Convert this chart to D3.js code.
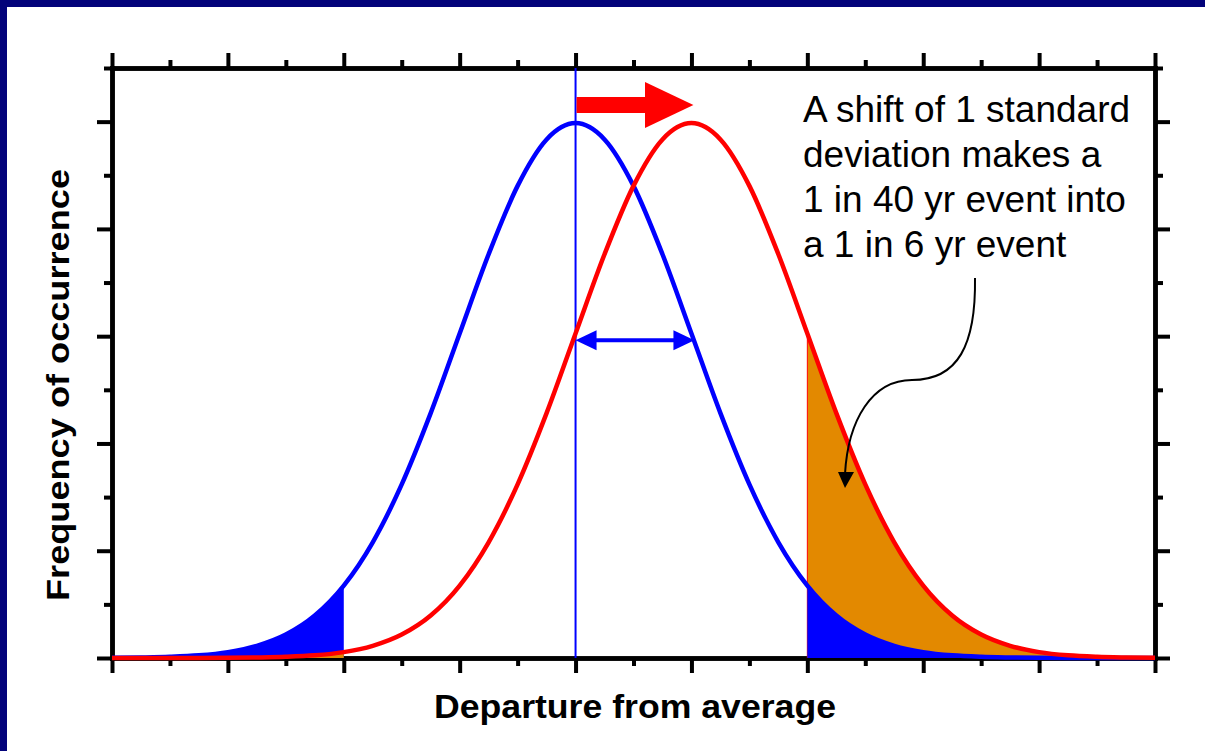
<!DOCTYPE html>
<html>
<head>
<meta charset="utf-8">
<script src="https://cdn.jsdelivr.net/npm/d3@7"></script>
<style>
  html, body { margin: 0; padding: 0; background: #fff; }
  svg { display: block; }
</style>
</head>
<body>
<svg id="chart" width="1205" height="751"></svg>
<script>
// ---- data ----
const departure = [-4, -3.75, -3.5, -3.25, -3, -2.75, -2.5, -2.25, -2, -1.75, -1.5, -1.25, -1, -0.75, -0.5, -0.25,
  0, 0.25, 0.5, 0.75, 1, 1.25, 1.5, 1.75, 2, 2.25, 2.5, 2.75, 3, 3.25, 3.5, 3.75, 4, 4.25, 4.5, 4.75, 5];
const presentClimate = [0.0001, 0.0004, 0.0009, 0.0020, 0.0044, 0.0091, 0.0175, 0.0317, 0.0540, 0.0863, 0.1295, 0.1826,
  0.2420, 0.3011, 0.3521, 0.3867, 0.3989, 0.3867, 0.3521, 0.3011, 0.2420, 0.1826, 0.1295, 0.0863, 0.0540, 0.0317,
  0.0175, 0.0091, 0.0044, 0.0020, 0.0009, 0.0004, 0.0001, 0.0000, 0.0000, 0.0000, 0.0000];
const shiftedClimate = [0.0000, 0.0000, 0.0000, 0.0000, 0.0001, 0.0004, 0.0009, 0.0020, 0.0044, 0.0091, 0.0175, 0.0317,
  0.0540, 0.0863, 0.1295, 0.1826, 0.2420, 0.3011, 0.3521, 0.3867, 0.3989, 0.3867, 0.3521, 0.3011, 0.2420, 0.1826,
  0.1295, 0.0863, 0.0540, 0.0317, 0.0175, 0.0091, 0.0044, 0.0020, 0.0009, 0.0004, 0.0001];
const lowThreshold = -2;
const highThreshold = 2;
const xMajorTicks = [-4, -3, -2, -1, 0, 1, 2, 3, 4, 5];
const xMinorTicks = [-3.5, -2.5, -1.5, -0.5, 0.5, 1.5, 2.5, 3.5, 4.5];
const yMajorTicks = [0, 0.08, 0.16, 0.24, 0.32, 0.40];
const yMinorTicks = [0.04, 0.12, 0.20, 0.28, 0.36, 0.44];
const xTitle = "Departure from average";
const yTitle = "Frequency of occurrence";
const noteLines = ["A shift of 1 standard", "deviation makes a", "1 in 40 yr event into", "a 1 in 6 yr event"];

// ---- drawing ----
const svg = d3.select("#chart");
const W = 1205, H = 751;
const navy = "#03037a", blue = "#0000ff", red = "#ff0000", orange = "#e38900";

svg.append("rect").attr("width", W).attr("height", H).attr("fill", "#fff");
svg.append("rect").attr("x", 0).attr("y", 0).attr("width", W).attr("height", 7).attr("fill", navy);
svg.append("rect").attr("x", 0).attr("y", 0).attr("width", 7).attr("height", H).attr("fill", navy);

const x = d3.scaleLinear().domain([-4, 5]).range([112, 1155]);
const y = d3.scaleLinear().domain([0, 0.44]).range([658, 68]);

function styleAxis(g) {
  g.selectAll("text").remove();
  g.select(".domain").attr("stroke", "#000").attr("stroke-width", 4.5).attr("stroke-linecap", "square");
  g.selectAll(".tick line").attr("stroke", "#000").attr("stroke-width", 4);
}
const axes = svg.append("g");
function addAxis(gen, tx, ty) {
  axes.append("g").attr("transform", `translate(${tx},${ty})`).call(gen).call(styleAxis);
}
const noFmt = () => "";
addAxis(d3.axisBottom(x).tickValues(xMajorTicks).tickSize(15).tickSizeOuter(0).tickFormat(noFmt), 0, y(0));
addAxis(d3.axisBottom(x).tickValues(xMinorTicks).tickSize(8).tickSizeOuter(0).tickFormat(noFmt), 0, y(0));
addAxis(d3.axisTop(x).tickValues(xMajorTicks).tickSize(15).tickSizeOuter(0).tickFormat(noFmt), 0, y(0.44));
addAxis(d3.axisTop(x).tickValues(xMinorTicks).tickSize(8).tickSizeOuter(0).tickFormat(noFmt), 0, y(0.44));
addAxis(d3.axisLeft(y).tickValues(yMajorTicks).tickSize(15).tickSizeOuter(0).tickFormat(noFmt), x(-4), 0);
addAxis(d3.axisLeft(y).tickValues(yMinorTicks).tickSize(8).tickSizeOuter(0).tickFormat(noFmt), x(-4), 0);
addAxis(d3.axisRight(y).tickValues(yMajorTicks).tickSize(15).tickSizeOuter(0).tickFormat(noFmt), x(5), 0);
addAxis(d3.axisRight(y).tickValues(yMinorTicks).tickSize(8).tickSizeOuter(0).tickFormat(noFmt), x(5), 0);

const blueData = departure.map((d, i) => ({ x: d, y: presentClimate[i] }));
const redData = departure.map((d, i) => ({ x: d, y: shiftedClimate[i] }));

const area = d3.area().x(d => x(d.x)).y0(y(0)).y1(d => y(d.y)).curve(d3.curveMonotoneX);
const line = d3.line().x(d => x(d.x)).y(d => y(d.y)).curve(d3.curveMonotoneX);

// left tail
svg.append("path").datum(blueData.filter(d => d.x <= lowThreshold)).attr("d", area).attr("fill", blue);
svg.append("path").datum(redData.filter(d => d.x <= lowThreshold)).attr("d", area).attr("fill", orange);
// right tail
svg.append("path").datum(redData.filter(d => d.x >= highThreshold)).attr("d", area).attr("fill", orange);
svg.append("line")
  .attr("x1", x(highThreshold)).attr("x2", x(highThreshold))
  .attr("y1", y(0)).attr("y2", y(shiftedClimate[departure.indexOf(highThreshold)]))
  .attr("stroke", red).attr("stroke-width", 1);
svg.append("path").datum(blueData.filter(d => d.x >= highThreshold)).attr("d", area).attr("fill", blue);

// mean line
svg.append("line").attr("x1", x(0)).attr("x2", x(0)).attr("y1", y(0.44)).attr("y2", y(0))
  .attr("stroke", blue).attr("stroke-width", 2);

// curves
svg.append("path").datum(blueData).attr("d", line).attr("fill", "none").attr("stroke", blue).attr("stroke-width", 4.5);
svg.append("path").datum(redData).attr("d", line).attr("fill", "none").attr("stroke", red).attr("stroke-width", 4.5);

// red shift arrow
const ay = 105;
svg.append("rect").attr("x", x(0) + 1).attr("y", ay - 8).attr("width", 645 - x(0) - 1).attr("height", 16).attr("fill", red);
svg.append("path").attr("d", `M645,${ay - 23} L${x(1) + 2},${ay} L645,${ay + 23} Z`).attr("fill", red);

// blue double arrow (1 standard deviation)
const by = y(0.237);
const bx0 = x(0), bx1 = x(1) + 3;
svg.append("line").attr("x1", bx0 + 15).attr("x2", bx1 - 15).attr("y1", by).attr("y2", by)
  .attr("stroke", blue).attr("stroke-width", 4);
svg.append("path").attr("d", `M${bx0},${by} L${bx0 + 21},${by - 10} L${bx0 + 21},${by + 10} Z`).attr("fill", blue);
svg.append("path").attr("d", `M${bx1},${by} L${bx1 - 21},${by - 10} L${bx1 - 21},${by + 10} Z`).attr("fill", blue);

// annotation
const note = svg.append("text").attr("font-family", "'Liberation Sans', Arial, sans-serif")
  .attr("font-size", 37).attr("fill", "#000");
noteLines.forEach((t, i) => note.append("tspan").attr("x", 803).attr("y", 122 + i * 45).text(t));

svg.append("path")
  .attr("d", "M975,278 C976,345 958,380 912,380 C872,380 848,420 845,474")
  .attr("fill", "none").attr("stroke", "#000").attr("stroke-width", 2);
svg.append("path").attr("d", "M838,472 L854,472 L845,488 Z").attr("fill", "#000");

// axis titles
svg.append("text").attr("x", 434).attr("y", 718)
  .attr("font-family", "'Liberation Sans', Arial, sans-serif").attr("font-weight", "bold").attr("font-size", 34)
  .attr("textLength", 402).attr("lengthAdjust", "spacingAndGlyphs").attr("fill", "#000").text(xTitle);
svg.append("text").attr("transform", "translate(69,601) rotate(-90)")
  .attr("font-family", "'Liberation Sans', Arial, sans-serif").attr("font-weight", "bold").attr("font-size", 31)
  .attr("textLength", 432).attr("lengthAdjust", "spacingAndGlyphs").attr("fill", "#000").text(yTitle);
</script>
</body>
</html>
